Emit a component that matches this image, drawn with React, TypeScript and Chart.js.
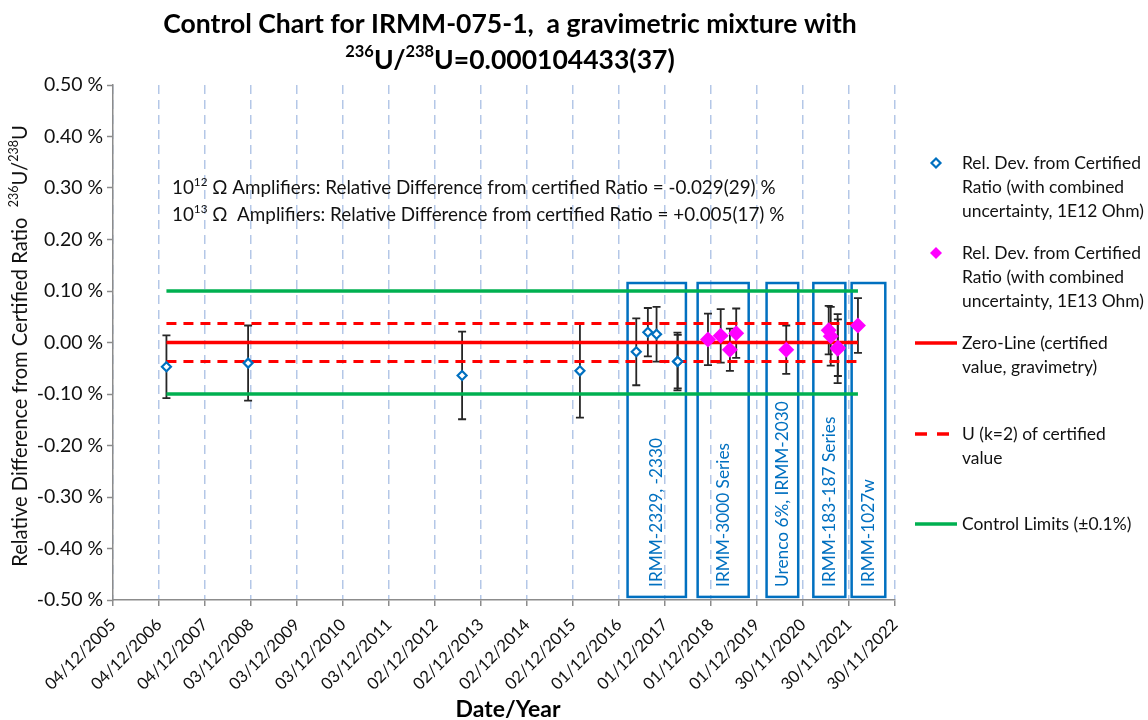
import React, { useEffect, useRef } from 'react';
import { Chart, registerables } from 'chart.js';

Chart.register(...registerables);

// ---------- data ----------
const AXIS_START = '2005-12-04';
const AXIS_END = '2022-11-30';
const TICK_STEP_DAYS = 365;
const Y_MIN = -0.5;
const Y_MAX = 0.5;
const Y_STEP = 0.1;

// 1E12 Ohm amplifier results (relative deviation, %)
const dates12 = ['2007-02-01', '2008-11-10', '2013-07-05', '2016-01-26', '2017-04-17', '2017-07-18', '2017-09-25', '2018-03-10', '2018-03-12'];
const values12 = [-0.047, -0.040, -0.064, -0.055, -0.018, 0.020, 0.016, -0.037, -0.037];
const errors12 = [0.061, 0.073, 0.085, 0.091, 0.065, 0.047, 0.053, 0.056, 0.052];

// 1E13 Ohm amplifier results (relative deviation, %)
const dates13 = ['2018-11-07', '2019-02-16', '2019-04-30', '2019-06-19', '2020-07-20', '2021-06-22', '2021-07-08', '2021-09-01', '2021-09-03', '2022-02-09'];
const values13 = [0.006, 0.013, -0.014, 0.018, -0.014, 0.024, 0.012, -0.012, -0.010, 0.033];
const errors13 = [0.050, 0.052, 0.041, 0.048, 0.047, 0.047, 0.057, 0.067, 0.055, 0.053];

const ZERO_LINE = 0;
const CERT_U = 0.037;
const CONTROL_LIMIT = 0.1;

const boxLabels = ['IRMM-2329, -2330', 'IRMM-3000 Series', 'Urenco 6%, IRMM-2030', 'IRMM-183-187 Series', 'IRMM-1027w'];
const boxStarts = ['2017-02-07', '2018-08-17', '2020-02-15', '2021-02-20', '2021-12-21'];
const boxEnds = ['2018-05-16', '2019-09-26', '2020-10-23', '2021-11-01', '2022-09-14'];
const BOX_TOP = 0.1155;
const BOX_BOTTOM = -0.494;

const TITLE_1 = 'Control Chart for IRMM-075-1,  a gravimetric mixture with';
const TITLE_2 = [{ t: '236', sup: true }, { t: 'U/' }, { t: '238', sup: true }, { t: 'U=0.000104433(37)' }];
const Y_TITLE = [{ t: 'Relative Difference from Certified Ratio  ' }, { t: '236', sup: true }, { t: 'U/' }, { t: '238', sup: true }, { t: 'U' }];
const X_TITLE = 'Date/Year';
const NOTE_1 = [{ t: '10' }, { t: '12', sup: true }, { t: ' \u03A9 Amplifiers: Relative Difference from certified Ratio = -0.029(29) %' }];
const NOTE_2 = [{ t: '10' }, { t: '13', sup: true }, { t: ' \u03A9  Amplifiers: Relative Difference from certified Ratio = +0.005(17) %' }];

const seriesNames = [
  ['Rel. Dev. from Certified', 'Ratio (with combined', 'uncertainty, 1E12 Ohm)'],
  ['Rel. Dev. from Certified', 'Ratio (with combined', 'uncertainty, 1E13 Ohm)'],
  ['Zero-Line (certified', 'value, gravimetry)'],
  ['U (k=2) of certified', 'value'],
  ['Control Limits (\u00B10.1%)'],
];

// ---------- helpers ----------
type Run = { t: string; sup?: boolean };
const SUP = 0.62;
const FAMILY = 'Lato, "Noto Sans", sans-serif';
const toDay = (s: string) => {
  const [y, m, d] = s.split('-').map(Number);
  return Date.UTC(y, m - 1, d) / 86400000;
};
const fmtDay = (v: number) => {
  const dt = new Date(Math.round(v) * 86400000);
  const dd = String(dt.getUTCDate()).padStart(2, '0');
  const mm = String(dt.getUTCMonth() + 1).padStart(2, '0');
  return `${dd}/${mm}/${dt.getUTCFullYear()}`;
};

function measureRich(ctx: CanvasRenderingContext2D, runs: Run[], size: number, weight: string) {
  let w = 0;
  for (const r of runs) {
    ctx.font = `${weight} ${r.sup ? size * SUP : size}px ${FAMILY}`;
    w += ctx.measureText(r.t).width;
  }
  return w;
}

function drawRich(ctx: CanvasRenderingContext2D, runs: Run[], x: number, y: number, size: number, weight: string, align: 'left' | 'center') {
  const w = measureRich(ctx, runs, size, weight);
  let cx = align === 'center' ? x - w / 2 : x;
  ctx.textAlign = 'left';
  ctx.textBaseline = 'middle';
  for (const r of runs) {
    const s = r.sup ? size * SUP : size;
    ctx.font = `${weight} ${s}px ${FAMILY}`;
    ctx.fillText(r.t, cx, r.sup ? y - size * 0.3 : y);
    cx += ctx.measureText(r.t).width;
  }
}

export default function App() {
  const ref = useRef<HTMLCanvasElement>(null);

  useEffect(() => {
    document.body.style.margin = '0';
    const canvas = ref.current;
    if (!canvas) return;

    const mctx = document.createElement('canvas').getContext('2d') as CanvasRenderingContext2D;
    const fit = (runs: Run[], target: number, weight = 'normal') => (100 * target) / measureRich(mctx, runs, 100, weight);
    const sz = {
      title: fit([{ t: TITLE_1 }], 694, 'bold'),
      yTick: fit([{ t: '0.50 %' }], 59),
      xTick: fit([{ t: '04/12/2006' }], 92),
      legend: fit([{ t: 'Rel. Dev. from Certified' }], 179),
      note: fit(NOTE_1, 604),
      yTitle: fit(Y_TITLE, 442),
      box: fit([{ t: 'IRMM-3000 Series' }], 144),
      xTitle: fit([{ t: X_TITLE }], 105, 'bold'),
    };

    const xMin = toDay(AXIS_START);
    const xMax = toDay(AXIS_END);
    const first = toDay(dates12[0]);
    const last = toDay(dates13[dates13.length - 1]);
    const hLine = (v: number) => [{ x: first, y: v }, { x: last, y: v }];

    const RED = '#FF0000';
    const GREEN = '#00B050';
    const BLUE = '#0070C0';
    const MAGENTA = '#FF00FF';
    const TEXT = '#111111';

    const lineDs = (v: number, color: string, width: number, dash: number[] = []) => ({
      type: 'scatter' as const,
      data: hLine(v),
      showLine: true,
      borderColor: color,
      borderWidth: width,
      borderDash: dash,
      pointRadius: 0,
      borderCapStyle: 'butt' as const,
    });

    const overlay = {
      id: 'overlay',
      beforeDatasetsDraw(chart: any) {
        const { ctx, scales } = chart;
        const x = scales.x;
        const y = scales.y;
        ctx.save();
        // boxes
        boxLabels.forEach((lab, i) => {
          const x0 = x.getPixelForValue(toDay(boxStarts[i]));
          const x1 = x.getPixelForValue(toDay(boxEnds[i]));
          const y0 = y.getPixelForValue(BOX_TOP);
          const y1 = y.getPixelForValue(BOX_BOTTOM);
          ctx.strokeStyle = BLUE;
          ctx.lineWidth = 2.5;
          ctx.setLineDash([]);
          ctx.strokeRect(x0, y0, x1 - x0, y1 - y0);
          ctx.save();
          ctx.translate((x0 + x1) / 2, y1 - 10);
          ctx.rotate(-Math.PI / 2);
          ctx.fillStyle = BLUE;
          ctx.font = `${sz.box}px ${FAMILY}`;
          ctx.textAlign = 'left';
          ctx.textBaseline = 'middle';
          ctx.fillText(lab, 0, 0);
          ctx.restore();
        });
        // error bars
        ctx.strokeStyle = '#262626';
        ctx.lineWidth = 1.8;
        const bars = (ds: string[], vals: number[], errs: number[]) => {
          ds.forEach((d, i) => {
            const px = x.getPixelForValue(toDay(d));
            const top = y.getPixelForValue(vals[i] + errs[i]);
            const bot = y.getPixelForValue(vals[i] - errs[i]);
            ctx.beginPath();
            ctx.moveTo(px, top);
            ctx.lineTo(px, bot);
            ctx.moveTo(px - 4, top);
            ctx.lineTo(px + 4, top);
            ctx.moveTo(px - 4, bot);
            ctx.lineTo(px + 4, bot);
            ctx.stroke();
          });
        };
        bars(dates12, values12, errors12);
        bars(dates13, values13, errors13);
        ctx.restore();
      },
      afterDraw(chart: any) {
        const { ctx } = chart;
        ctx.save();
        ctx.fillStyle = '#000';
        // title
        ctx.font = `bold ${sz.title}px ${FAMILY}`;
        ctx.textAlign = 'center';
        ctx.textBaseline = 'middle';
        ctx.fillText(TITLE_1, 510, 24);
        drawRich(ctx, TITLE_2, 510, 60, sz.title, 'bold', 'center');
        // notes
        ctx.fillStyle = TEXT;
        drawRich(ctx, NOTE_1, 172, 188, sz.note, 'normal', 'left');
        drawRich(ctx, NOTE_2, 172, 215, sz.note, 'normal', 'left');
        // y title
        ctx.save();
        ctx.translate(20, 346);
        ctx.rotate(-Math.PI / 2);
        drawRich(ctx, Y_TITLE, 0, 0, sz.yTitle, 'normal', 'center');
        ctx.restore();
        // x title
        ctx.fillStyle = '#000';
        ctx.font = `bold ${sz.xTitle}px ${FAMILY}`;
        ctx.textAlign = 'center';
        ctx.textBaseline = 'middle';
        ctx.fillText(X_TITLE, 508, 710);
        // legend
        const legY = [163, 253, 343, 434, 524];
        const tx = 962;
        seriesNames.forEach((lines, i) => {
          const cy = legY[i];
          ctx.save();
          if (i === 0) {
            ctx.beginPath();
            ctx.moveTo(936, cy - 4.5);
            ctx.lineTo(940.5, cy);
            ctx.lineTo(936, cy + 4.5);
            ctx.lineTo(931.5, cy);
            ctx.closePath();
            ctx.fillStyle = '#fff';
            ctx.fill();
            ctx.strokeStyle = BLUE;
            ctx.lineWidth = 2.2;
            ctx.stroke();
          } else if (i === 1) {
            ctx.beginPath();
            ctx.moveTo(936, cy - 6);
            ctx.lineTo(942, cy);
            ctx.lineTo(936, cy + 6);
            ctx.lineTo(930, cy);
            ctx.closePath();
            ctx.fillStyle = MAGENTA;
            ctx.fill();
          } else {
            ctx.beginPath();
            ctx.strokeStyle = i === 4 ? GREEN : RED;
            ctx.lineWidth = 3.3;
            if (i === 3) ctx.setLineDash([12, 10]);
            ctx.moveTo(915, cy);
            ctx.lineTo(957, cy);
            ctx.stroke();
          }
          ctx.restore();
          ctx.fillStyle = TEXT;
          ctx.font = `${sz.legend}px ${FAMILY}`;
          ctx.textAlign = 'left';
          ctx.textBaseline = 'middle';
          lines.forEach((ln, j) => ctx.fillText(ln, tx, cy + j * 24));
        });
        ctx.restore();
      },
    };

    const chart = new Chart(canvas, {
      type: 'scatter',
      data: {
        datasets: [
          {
            label: seriesNames[0].join(' '),
            data: dates12.map((d, i) => ({ x: toDay(d), y: values12[i] })),
            pointStyle: 'rectRot',
            pointRadius: 4.5,
            borderWidth: 2.2,
            borderColor: BLUE,
            backgroundColor: '#ffffff',
          },
          {
            label: seriesNames[1].join(' '),
            data: dates13.map((d, i) => ({ x: toDay(d), y: values13[i] })),
            pointStyle: 'rectRot',
            pointRadius: 8,
            borderWidth: 0,
            borderColor: MAGENTA,
            backgroundColor: MAGENTA,
          },
          { label: seriesNames[2].join(' '), ...lineDs(ZERO_LINE, RED, 3.3) },
          { label: seriesNames[3].join(' '), ...lineDs(CERT_U, RED, 3, [10, 7]) },
          { label: 'U-', ...lineDs(-CERT_U, RED, 3, [10, 7]) },
          { label: seriesNames[4].join(' '), ...lineDs(CONTROL_LIMIT, GREEN, 3.5) },
          { label: 'CL-', ...lineDs(-CONTROL_LIMIT, GREEN, 3.5) },
        ] as any,
      },
      options: {
        animation: false,
        responsive: false,
        devicePixelRatio: 1,
        events: [],
        layout: { padding: { left: 0, top: 85, right: 253, bottom: 0 } },
        plugins: {
          legend: { display: false },
          tooltip: { enabled: false },
          title: { display: false },
        },
        scales: {
          x: {
            type: 'linear',
            min: xMin,
            max: xMax,
            afterBuildTicks(scale: any) {
              const t = [];
              for (let v = xMin; v <= xMax + 0.5; v += TICK_STEP_DAYS) t.push({ value: v });
              scale.ticks = t;
            },
            afterFit(scale: any) {
              scale.height = 120;
              scale.paddingLeft = 0;
              scale.paddingRight = 0;
            },
            ticks: {
              autoSkip: false,
              minRotation: 45,
              maxRotation: 45,
              padding: 9,
              color: TEXT,
              font: { family: FAMILY, size: sz.xTick },
              callback: (v: any) => fmtDay(Number(v)),
            },
            grid: {
              color: '#B4C7E7',
              lineWidth: 1.5,
              drawTicks: true,
              tickLength: 6,
              tickColor: '#8c8c8c',
              tickWidth: 1.5,
            },
            border: { display: true, color: '#8c8c8c', width: 1.5, dash: [9, 6] },
          },
          y: {
            type: 'linear',
            min: Y_MIN,
            max: Y_MAX,
            afterFit(scale: any) {
              scale.width = 113;
              scale.paddingTop = 0;
              scale.paddingBottom = 0;
            },
            ticks: {
              stepSize: Y_STEP,
              padding: 4,
              color: TEXT,
              font: { family: FAMILY, size: sz.yTick },
              callback: (v: any) => `${(Math.abs(Number(v)) < 1e-9 ? 0 : Number(v)).toFixed(2)} %`,
            },
            grid: {
              drawOnChartArea: false,
              drawTicks: true,
              tickLength: 6,
              tickColor: '#8c8c8c',
              tickWidth: 1.5,
            },
            border: { display: true, color: '#8c8c8c', width: 1.5 },
          },
        },
      } as any,
      plugins: [overlay],
    });

    return () => chart.destroy();
  }, []);

  return <canvas ref={ref} width={1148} height={720} style={{ display: 'block', width: 1148, height: 720 }} />;
}
